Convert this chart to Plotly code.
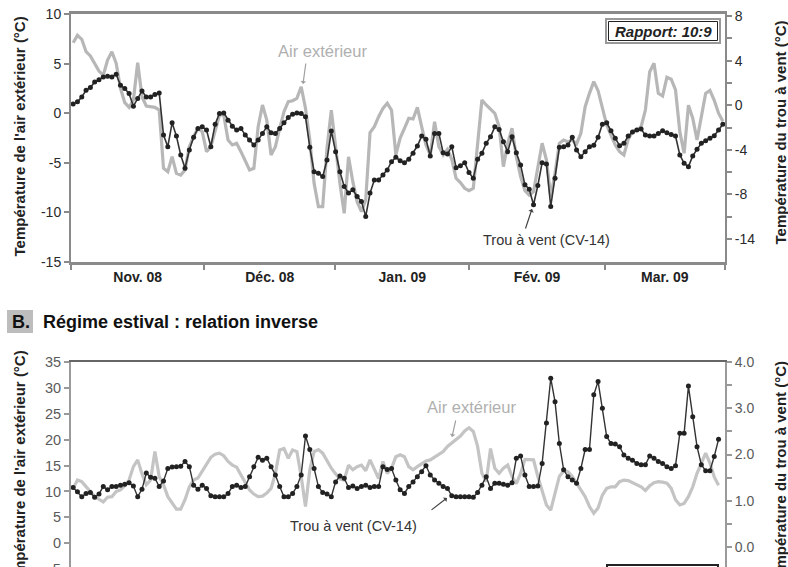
import plotly.graph_objects as go

# ---------------- data ----------------
# Winter regime (daily values, ~152 days)
winter_air = [7.1, 7.85, 7.45, 6.2, 5.77, 4.96, 4.25, 3.82, 5.36, 6.2,
              5.03, 2.51, 1.06, 0.59, 1.33, 5.09, 1.66, 0.73, 0.66, 0.59,
              0.32, -5.55, -5.9, -4.38, -6.06, -6.23, -5.73, -3.38, -2.37, -1.52,
              -1.86, -3.88, -3.38, -1.69, -0.18, -0.18, -2.7, -3.2, -3.03, -3.88,
              -4.72, -5.73, -5.56, -1.36, 0.83, -0.69, -4.21, -3.38, -1.52, 0.15,
              1.16, 1.26, 1.5, 2.67, 0.5, -2.7, -7.07, -9.42, -9.42, -3.5,
              0.3, -3.71, -7.07, -10.09, -4.4, -6.9, -8.92, -9.92, -8.75, -1.96,
              -1.36, -0.35, 0.49, 1.0, 0.3, -4.2, -2.5, -1.52, -0.51, -0.58,
              0.59, -1.36, -3.2, -4.21, -0.86, -3.38, -4.21, -3.64, -4.65, -6.56,
              -7.0, -7.57, -7.81, -7.57, -3.38, 1.33, 0.83, 0.39, -0.01, -1.36,
              -5.39, -3.03, -1.52, -4.38, -6.4, -7.81, -8.25, -7.91, -5.39, -3.03,
              -4.72, -8.42, -6.06, -3.03, -2.7, -2.87, -2.7, -3.1, -2.03, 0.66,
              2.0, 3.18, 2.27, 0.49, -1.19, -2.2, -3.2, -3.88, -4.21, -2.63,
              -1.86, -1.69, -1.36, 0.32, 4.18, 5.03, 2.0, 1.73, 3.62, 3.42,
              2.34, -1.86, -4.04, 0.8, -0.5, -2.7, -0.5, 2.0, 2.3, 1.3,
              0.0, -0.8]
winter_cave = [0.1, 0.3, 0.74, 1.34, 1.58, 2.08, 2.29, 2.53, 2.59, 2.53,
               2.77, 1.79, 1.49, 1.04, -0.09, 0.6, 1.28, 0.74, 0.74, 0.96,
               1.1, -2.68, -3.72, -1.58, -2.77, -4.46, -5.65, -4.02, -2.88, -2.08,
               -1.94, -2.23, -3.72, -1.7, -0.74, -0.69, -1.34, -1.88, -2.23, -2.08,
               -2.68, -3.13, -3.57, -3.13, -2.53, -1.94, -2.47, -2.53, -2.08, -1.58,
               -1.1, -0.8, -0.69, -0.74, -1.04, -3.78, -5.96, -6.1, -6.4, -4.91,
               -2.32, -4.17, -5.96, -7.29, -7.88, -7.59, -8.19, -8.63, -9.97, -7.88,
               -6.7, -6.7, -6.25, -5.8, -5.06, -4.67, -4.97, -5.15, -4.85, -4.31,
               -3.66, -2.77, -3.06, -4.55, -2.53, -2.53, -4.26, -4.38, -3.72, -5.6,
               -5.42, -5.15, -6.04, -6.54, -4.85, -4.31, -3.42, -2.83, -1.94, -2.17,
               -3.28, -4.17, -2.83, -4.26, -5.36, -7.14, -7.53, -8.93, -7.2, -5.15,
               -5.27, -9.08, -6.54, -3.78, -3.72, -3.57, -2.88, -4.02, -4.62, -4.17,
               -3.72, -3.6, -2.88, -1.7, -1.58, -2.29, -2.97, -3.63, -3.42, -2.77,
               -2.41, -2.23, -2.14, -2.68, -2.77, -2.77, -2.53, -2.29, -2.47, -2.62,
               -2.77, -4.46, -5.21, -5.51, -4.55, -3.96, -3.42, -3.19, -2.97, -2.74,
               -2.23, -1.7]

# Summer regime (daily values, ~151 days)
summer_air = [10.6, 12.2, 11.9, 10.9, 10.0, 9.0, 8.5, 8.0, 8.9, 9.0,
              10.0, 10.3, 11.1, 12.2, 14.8, 16.1, 13.4, 11.3, 12.2, 17.7,
              12.9, 11.3, 9.0, 7.8, 6.6, 6.6, 8.4, 10.9, 12.2, 12.6,
              14.0, 15.4, 16.6, 17.2, 17.4, 16.9, 15.8, 15.1, 14.7, 13.2,
              11.6, 10.3, 9.5, 9.0, 9.1, 9.7, 10.6, 13.5, 18.0, 18.3,
              16.4, 18.0, 17.7, 12.9, 7.1, 14.2, 17.7, 18.1, 17.4, 15.8,
              14.5, 13.4, 12.4, 12.2, 15.1, 14.2, 14.8, 15.1, 14.0, 16.1,
              14.2, 12.5, 15.8, 13.5, 14.5, 16.7, 17.1, 16.7, 14.8, 14.2,
              14.8, 15.4, 15.9, 16.1, 16.6, 17.1, 17.7, 18.7, 19.4, 19.9,
              20.7, 21.7, 22.3, 21.6, 18.7, 13.5, 11.9, 18.3, 14.5, 13.5,
              14.5, 15.1, 12.9, 11.5, 13.5, 16.2, 16.1, 16.1, 12.9, 10.0,
              7.4, 6.4, 9.6, 12.9, 14.0, 13.8, 12.9, 11.7, 10.3, 9.0,
              7.1, 5.8, 6.8, 9.3, 10.6, 10.9, 10.9, 11.9, 12.2, 12.1,
              11.7, 11.3, 10.9, 10.2, 11.1, 11.7, 11.9, 11.8, 11.6, 10.6,
              8.4, 7.4, 7.7, 9.0, 10.9, 13.5, 15.4, 17.4, 15.5, 12.8,
              11.2]
summer_cave = [1.29, 1.2, 1.09, 1.16, 1.18, 1.08, 1.15, 1.31, 1.24, 1.31,
               1.31, 1.34, 1.36, 1.39, 1.32, 1.09, 1.25, 1.6, 1.51, 1.49,
               1.31, 1.43, 1.7, 1.73, 1.74, 1.75, 1.85, 1.74, 1.34, 1.25,
               1.34, 1.27, 1.11, 1.09, 1.09, 1.09, 1.16, 1.31, 1.34, 1.29,
               1.31, 1.52, 1.74, 1.94, 1.88, 1.92, 1.74, 1.56, 1.31, 1.09,
               1.09, 1.16, 1.31, 1.56, 2.4, 2.11, 1.7, 1.31, 1.18, 1.15,
               1.09, 1.41, 1.54, 1.49, 1.29, 1.32, 1.27, 1.31, 1.34, 1.29,
               1.31, 1.31, 1.74, 1.68, 1.7, 1.45, 1.24, 1.16, 1.31, 1.41,
               1.52, 1.63, 1.76, 1.56, 1.45, 1.38, 1.31, 1.27, 1.11, 1.09,
               1.09, 1.09, 1.09, 1.08, 1.18, 1.34, 1.52, 1.27, 1.38, 1.38,
               1.36, 1.34, 1.39, 1.92, 1.97, 1.56, 1.31, 1.31, 1.32, 1.81,
               2.68, 3.65, 3.14, 2.24, 1.67, 1.52, 1.45, 1.38, 1.7, 2.11,
               2.11, 3.29, 3.58, 3.0, 2.39, 2.24, 2.23, 2.17, 1.99, 1.92,
               1.88, 1.81, 1.78, 1.78, 1.97, 1.92, 1.85, 1.81, 1.74, 1.7,
               1.76, 2.46, 2.46, 3.48, 2.82, 2.17, 1.78, 1.65, 1.65, 1.96,
               2.33]

# Month boundaries and label positions (in days from start)
month_bounds = [0, 31, 61.4, 92.5, 124, 152]
month_centers = [15.5, 46.2, 77, 108.3, 138]
month_labels = ["Nov. 08", "Déc. 08", "Jan. 09", "Fév. 09", "Mar. 09"]

air_ticks_w = [10, 5, 0, -5, -10, -15]
air_text_w = ["10", "5", "0", "-5", "-10", "-15"]
cave_ticks_w = [8, 6, 4, 2, 0, -2, -4, -6, -8, -10, -12]
cave_text_w = ["8", "", "4", "", "0", "", "-4", "", "-8", "", "-14"]

air_ticks_s = [35, 30, 25, 20, 15, 10, 5, 0]
air_text_s = ["35", "30", "25", "20", "15", "10", "5", "0"]
cave_ticks_s = [4, 3, 2, 1, 0]
cave_text_s = ["4.0", "3.0", "2.0", "1.0", "0.0"]

# ---------------- geometry helpers ----------------
W, H = 788, 567
L, R, T = 71, 725, 14


def px(x):
    return (x - L) / (R - L)


def py(y):
    return (H - y) / (H - T)


FONT = "Liberation Sans, Arial, sans-serif"
x_w = [i + 0.5 for i in range(len(winter_cave))]
x_s = [i + 0.5 for i in range(len(summer_cave))]

fig = go.Figure()

# Winter panel
fig.add_trace(go.Scatter(x=x_w, y=winter_air, mode="lines",
                         line=dict(color="#b7b7b7", width=3.2),
                         xaxis="x", yaxis="y"))
fig.add_trace(go.Scatter(x=x_w, y=winter_cave, mode="lines+markers",
                         line=dict(color="#333333", width=1.6),
                         marker=dict(symbol="circle", size=5, color="#222222"),
                         xaxis="x", yaxis="y2"))

# Summer panel
fig.add_trace(go.Scatter(x=x_s, y=summer_air, mode="lines",
                         line=dict(color="#c4c4c4", width=3.2),
                         xaxis="x2", yaxis="y3"))
fig.add_trace(go.Scatter(x=x_s, y=summer_cave, mode="lines+markers",
                         line=dict(color="#333333", width=1.4),
                         marker=dict(symbol="circle", size=5, color="#222222"),
                         xaxis="x2", yaxis="y4"))

axis_grey = "#8a8a8a"
dark_tick = dict(family=FONT, size=14, color="#2a2a2a")
light_tick = dict(family=FONT, size=14.5, color="#5a5a5a")
light_tick_r = dict(family=FONT, size=14, color="#5a5a5a")

fig.update_layout(
    width=W, height=H,
    margin=dict(l=L, r=W - R, t=T, b=0, autoexpand=False),
    paper_bgcolor="white", plot_bgcolor="white",
    showlegend=False,
    font=dict(family=FONT),
    xaxis=dict(domain=[0, 1], anchor="y", range=[0, 152],
               tickmode="array", tickvals=month_centers,
               ticktext=["<b>%s</b>" % m for m in month_labels],
               ticks="",
               minor=dict(tickmode="array", tickvals=month_bounds,
                          ticks="outside", ticklen=5, tickcolor=axis_grey, tickwidth=1.5),
               tickfont=dict(family=FONT, size=14, color="#222222"),
               showline=True, linecolor=axis_grey, linewidth=3, mirror=True,
               showgrid=False, zeroline=False, automargin=False),
    yaxis=dict(domain=[py(262), 1], anchor="x", range=[-15, 10],
               tickmode="array", tickvals=air_ticks_w, ticktext=air_text_w,
               ticks="outside", ticklen=5, tickcolor=axis_grey, tickwidth=1.5,
               tickfont=dark_tick,
               showline=True, linecolor=axis_grey, linewidth=2,
               showgrid=False, zeroline=False, automargin=False),
    yaxis2=dict(overlaying="y", side="right", anchor="x", range=[-14.06, 8.18],
                tickmode="array", tickvals=cave_ticks_w, ticktext=cave_text_w,
                ticks="outside", ticklen=5, tickcolor=axis_grey, tickwidth=1.5,
                tickfont=dark_tick,
                showline=True, linecolor=axis_grey, linewidth=2,
                showgrid=False, zeroline=False, automargin=False),
    xaxis2=dict(domain=[0, 1], anchor="y3", range=[0, 152], side="top",
                showticklabels=False, ticks="",
                showline=True, linecolor="#666666", linewidth=2,
                showgrid=False, zeroline=False, automargin=False),
    yaxis3=dict(domain=[0, py(362)], anchor="x2", range=[-4.58, 35],
                tickmode="array", tickvals=air_ticks_s, ticktext=air_text_s,
                ticks="outside", ticklen=5, tickcolor="#999999", tickwidth=1.5,
                tickfont=light_tick,
                showline=True, linecolor="#9a9a9a", linewidth=2,
                showgrid=False, zeroline=False, automargin=False),
    yaxis4=dict(overlaying="y3", side="right", anchor="x2", range=[-0.428, 4.0],
                tickmode="array", tickvals=cave_ticks_s, ticktext=cave_text_s,
                ticks="outside", ticklen=5, tickcolor="#999999", tickwidth=1.5,
                minor=dict(dtick=0.5, tick0=0, ticks="outside", ticklen=5,
                           tickcolor="#999999", tickwidth=1.5),
                tickfont=light_tick_r,
                showline=True, linecolor="#9a9a9a", linewidth=2,
                showgrid=False, zeroline=False, automargin=False),
)

title_font = dict(family=FONT, size=15, color="#222222")
annotations = [
    # axis titles
    dict(x=px(19), y=py(136.5), text="<b>Température de l'air extérieur (°C)</b>",
         textangle=-90, font=title_font),
    dict(x=px(780), y=py(132.5), text="<b>Température du trou à vent (°C)</b>",
         textangle=-90, font=title_font),
    dict(x=px(19), y=py(470.5), text="<b>Température de l'air extérieur (°C)</b>",
         textangle=-90, font=title_font),
    dict(x=px(780), y=py(473), text="<b>Température du trou à vent (°C)</b>",
         textangle=-90, font=title_font),
    # winter labels
    dict(x=px(322.5), y=py(51), text="Air extérieur",
         font=dict(family=FONT, size=16.5, color="#b0b0b0")),
    dict(x=px(303), y=py(84), text="", showarrow=True, ax=3, ay=-22,
         arrowhead=1, arrowsize=0.8, arrowwidth=1.2, arrowcolor="#a0a0a0"),
    dict(x=px(546.5), y=py(239.5), text="Trou à vent (CV-14)",
         font=dict(family=FONT, size=14.5, color="#333333")),
    dict(x=px(532), y=py(209), text="", showarrow=True, ax=-7, ay=21,
         arrowhead=1, arrowsize=0.8, arrowwidth=1.2, arrowcolor="#444444"),
    dict(x=px(663), y=py(31), text="<b><i>Rapport: 10:9</i></b>",
         font=dict(family=FONT, size=15, color="#222222")),
    # summer header
    dict(x=px(21), y=py(321.5), text="<b>B.</b>",
         font=dict(family=FONT, size=18, color="#111111")),
    dict(x=px(41), y=py(321.5), text="<b>Régime estival : relation inverse</b>",
         xanchor="left", font=dict(family=FONT, size=18, color="#111111")),
    # summer labels
    dict(x=px(471), y=py(407), text="Air extérieur",
         font=dict(family=FONT, size=16.5, color="#b0b0b0")),
    dict(x=px(452), y=py(437), text="", showarrow=True, ax=4, ay=-18,
         arrowhead=1, arrowsize=0.8, arrowwidth=1.2, arrowcolor="#a0a0a0"),
    dict(x=px(353), y=py(526), text="Trou à vent (CV-14)",
         font=dict(family=FONT, size=14.5, color="#333333")),
    dict(x=px(447), y=py(498), text="", showarrow=True, ax=-17, ay=13,
         arrowhead=1, arrowsize=0.8, arrowwidth=1.2, arrowcolor="#444444"),
    dict(x=px(63), y=py(569), text="-5", xanchor="right",
         font=light_tick),
]
for a in annotations:
    a.setdefault("xref", "paper")
    a.setdefault("yref", "paper")
    a.setdefault("showarrow", False)
    a.setdefault("xanchor", "center")
    a.setdefault("yanchor", "middle")
fig.update_layout(annotations=annotations)

shapes = [
    dict(type="rect", x0=px(606), x1=px(720), y0=py(19), y1=py(43),
         line=dict(color="#999999", width=2), fillcolor="white", layer="below"),
    dict(type="rect", x0=px(608.5), x1=px(717.5), y0=py(21.5), y1=py(40.5),
         line=dict(color="#222222", width=1)),
    dict(type="rect", x0=px(7), x1=px(33), y0=py(310), y1=py(333),
         line=dict(width=0), fillcolor="#bdbdbd", layer="below"),
    dict(type="rect", x0=px(607), x1=px(718), y0=py(565), y1=py(600),
         line=dict(color="#222222", width=2)),
]
for s in shapes:
    s["xref"] = "paper"
    s["yref"] = "paper"
fig.update_layout(shapes=shapes)

fig.write_html("out.html")
